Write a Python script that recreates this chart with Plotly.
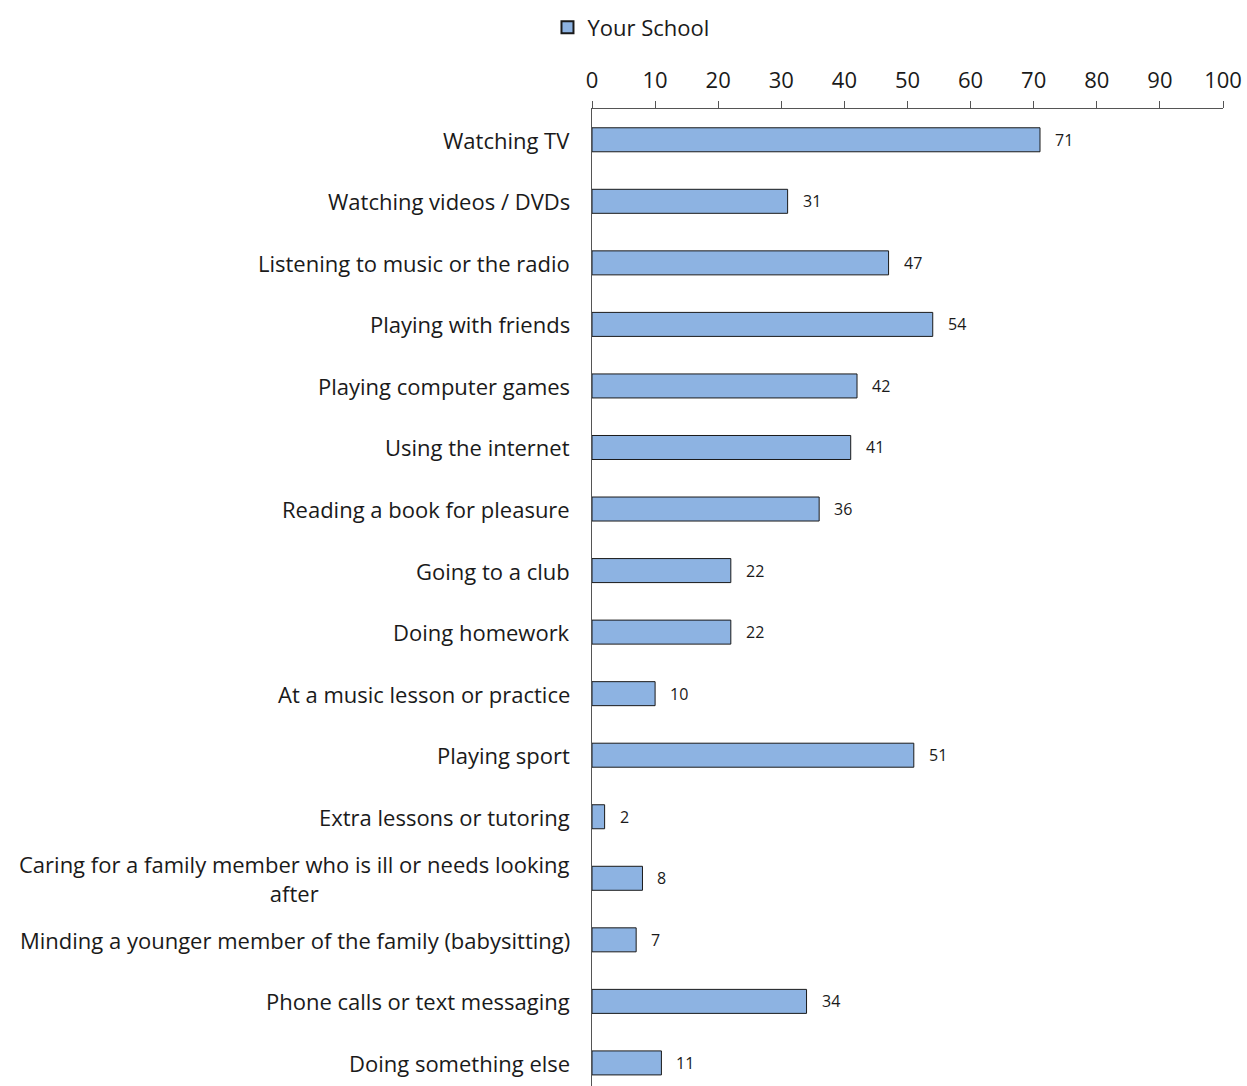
import plotly.graph_objects as go

# Activities and share of pupils (%) for the school
activities = [
    "Watching TV",
    "Watching videos / DVDs",
    "Listening to music or the radio",
    "Playing with friends",
    "Playing computer games",
    "Using the internet",
    "Reading a book for pleasure",
    "Going to a club",
    "Doing homework",
    "At a music lesson or practice",
    "Playing sport",
    "Extra lessons or tutoring",
    "Caring for a family member who is ill or needs looking<br>after",
    "Minding a younger member of the family (babysitting)",
    "Phone calls or text messaging",
    "Doing something else",
]
your_school = [71, 31, 47, 54, 42, 41, 36, 22, 22, 10, 51, 2, 8, 7, 34, 11]
x_ticks = [0, 10, 20, 30, 40, 50, 60, 70, 80, 90, 100]

FONT = "Open Sans"
TEXT = "#1a1a1a"
BAR = "#8DB3E2"

positions = list(range(len(activities)))

fig = go.Figure()
fig.add_trace(go.Bar(
    name="Your School",
    x=your_school,
    y=positions,
    orientation="h",
    marker=dict(color=BAR, line=dict(color="#1a1a1a", width=1)),
    width=0.39,
    hoverinfo="x+y",
))

annotations = []
# value labels beside each bar
for pos, val in zip(positions, your_school):
    annotations.append(dict(
        x=val, y=pos, xref="x", yref="y", text=str(val),
        showarrow=False, xanchor="left", yanchor="middle", xshift=13,
        font=dict(family=FONT, size=16, color=TEXT),
    ))
# category labels, right-aligned to the axis, multi-line entries centred
for pos, name in zip(positions, activities):
    annotations.append(dict(
        x=0, y=pos, xref="paper", yref="y", text=name,
        showarrow=False, xanchor="right", yanchor="middle", xshift=-20,
        align="center",
        font=dict(family=FONT, size=22, color=TEXT),
    ))

fig.update_layout(
    width=1247,
    height=1086,
    margin=dict(l=592, r=24, t=109, b=0),
    paper_bgcolor="white",
    plot_bgcolor="white",
    font=dict(family=FONT, size=20, color=TEXT),
    showlegend=True,
    legend=dict(
        orientation="h", x=0.506, xanchor="center", xref="container",
        y=0.994, yref="container", yanchor="top",
        font=dict(family=FONT, size=22, color=TEXT),
        itemsizing="constant",
    ),
    annotations=annotations,
    bargap=0.6,
)
fig.update_xaxes(
    side="top", range=[0, 100], tickvals=x_ticks,
    showgrid=False, zeroline=False,
    showline=True, linecolor="#555555", linewidth=1,
    ticks="outside", ticklen=7, tickcolor="#555555",
    tickfont=dict(family=FONT, size=22, color=TEXT),
    ticklabelstandoff=4,
    fixedrange=True,
)
fig.update_yaxes(
    range=[len(activities) - 1 + 0.375, -0.5],
    showticklabels=False, showgrid=False, zeroline=False,
    showline=True, linecolor="#555555", linewidth=1,
    ticks="", fixedrange=True,
)

fig.write_html("out.html")
